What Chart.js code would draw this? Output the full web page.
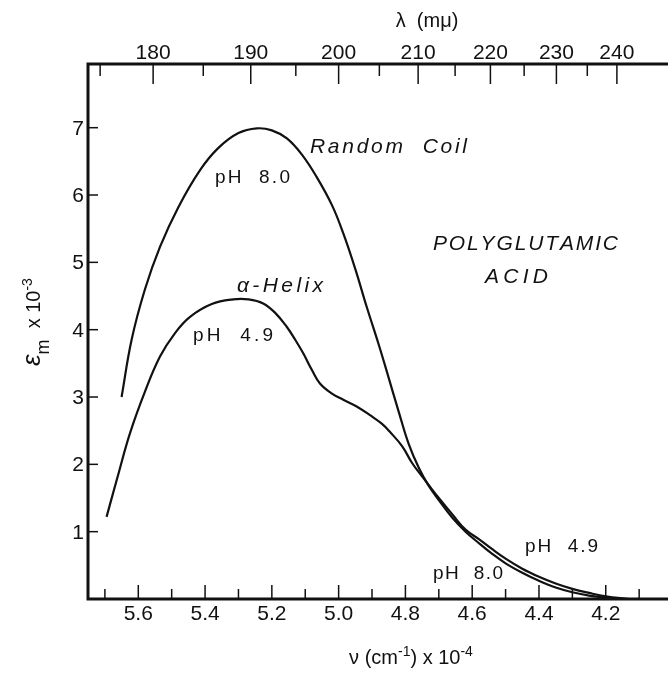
<!DOCTYPE html>
<html>
<head>
<meta charset="utf-8">
<script src="https://cdn.jsdelivr.net/npm/chart.js@4.4.1/dist/chart.umd.min.js"></script>
<style>
  html, body { margin: 0; padding: 0; background: #fff; }
  #wrap { width: 668px; height: 678px; }
</style>
</head>
<body>
<div id="wrap"><canvas id="chart" width="668" height="678"></canvas></div>
<script>
// wavenumber nu (cm-1 x 10^-4) and molar extinction (x 10^-3)
const coilNu  = [5.65, 5.62, 5.58, 5.535, 5.48, 5.415, 5.36, 5.30, 5.245, 5.20, 5.155, 5.11, 5.066, 5.02, 4.986, 4.95, 4.916, 4.88, 4.851, 4.82, 4.79, 4.76, 4.73, 4.70, 4.66, 4.62, 4.58, 4.54, 4.50, 4.45, 4.40, 4.35, 4.30, 4.25, 4.20, 4.16];
const coilEps = [3.00, 3.85, 4.60, 5.23, 5.82, 6.37, 6.70, 6.92, 6.99, 6.96, 6.84, 6.60, 6.27, 5.85, 5.43, 4.90, 4.34, 3.78, 3.30, 2.78, 2.30, 1.95, 1.68, 1.47, 1.21, 1.00, 0.83, 0.67, 0.53, 0.39, 0.27, 0.17, 0.10, 0.05, 0.02, 0.00];

const helixNu  = [5.695, 5.66, 5.625, 5.58, 5.535, 5.49, 5.445, 5.38, 5.316, 5.27, 5.226, 5.19, 5.155, 5.13, 5.106, 5.08, 5.056, 5.02, 4.986, 4.946, 4.906, 4.87, 4.846, 4.81, 4.78, 4.75, 4.73, 4.70, 4.66, 4.62, 4.58, 4.54, 4.50, 4.45, 4.40, 4.35, 4.30, 4.25, 4.20, 4.13];
const helixEps = [1.22, 1.85, 2.46, 3.08, 3.60, 3.95, 4.19, 4.38, 4.45, 4.45, 4.39, 4.25, 4.04, 3.85, 3.65, 3.40, 3.20, 3.05, 2.96, 2.86, 2.73, 2.60, 2.48, 2.27, 2.02, 1.82, 1.69, 1.50, 1.26, 1.03, 0.89, 0.74, 0.60, 0.45, 0.33, 0.23, 0.15, 0.09, 0.04, 0.00];

const nuTicks = [5.7, 5.6, 5.5, 5.4, 5.3, 5.2, 5.1, 5.0, 4.9, 4.8, 4.7, 4.6, 4.5, 4.4, 4.3, 4.2, 4.1];
const nuLabels = ['5.6', '5.4', '5.2', '5.0', '4.8', '4.6', '4.4', '4.2'];
const lambdaTicks = [175, 180, 185, 190, 195, 200, 205, 210, 215, 220, 225, 230, 235, 240];
const lambdaLabels = ['180', '190', '200', '210', '220', '230', '240'];
const epsTicks = [1, 2, 3, 4, 5, 6, 7];

const FONT = '"Liberation Sans", Arial, sans-serif';

function toPoints(xs, ys) {
    return xs.map((x, i) => ({ x: x, y: ys[i] }));
}

// draw text one glyph at a time so it spreads over a given width
function spreadText(ctx, text, x, y, width, font) {
    ctx.font = font;
    const chars = Array.from(text);
    const natural = chars.reduce((s, c) => s + ctx.measureText(c).width, 0);
    const gap = chars.length > 1 ? (width - natural) / (chars.length - 1) : 0;
    let cx = x;
    chars.forEach(c => {
        ctx.fillText(c, cx, y);
        cx += ctx.measureText(c).width + gap;
    });
}

// text made of pieces with their own size and raise (for sub/superscripts)
function pieces(ctx, parts, cx, y) {
    let total = 0;
    parts.forEach(p => { ctx.font = p.font; total += ctx.measureText(p.t).width; });
    let x = cx - total / 2;
    parts.forEach(p => {
        ctx.font = p.font;
        ctx.fillText(p.t, x, y + (p.dy || 0));
        x += ctx.measureText(p.t).width;
    });
}

const framePlugin = {
    id: 'frame',
    afterDraw(chart) {
        const ctx = chart.ctx;
        const a = chart.chartArea;
        const xs = chart.scales.x;
        const ys = chart.scales.y;
        ctx.save();
        ctx.strokeStyle = '#111';
        ctx.fillStyle = '#111';

        // frame
        ctx.lineWidth = 3;
        ctx.beginPath();
        ctx.moveTo(chart.width, a.top);
        ctx.lineTo(a.left, a.top);
        ctx.lineTo(a.left, a.bottom);
        ctx.lineTo(chart.width, a.bottom);
        ctx.stroke();

        ctx.lineWidth = 1.5;
        ctx.textAlign = 'center';
        ctx.textBaseline = 'alphabetic';

        // bottom ticks (inward)
        nuTicks.forEach(v => {
            const px = xs.getPixelForValue(v);
            const major = nuLabels.includes(v.toFixed(1));
            ctx.beginPath();
            ctx.moveTo(px, a.bottom);
            ctx.lineTo(px, a.bottom - (major ? 14 : 10));
            ctx.stroke();
        });
        ctx.font = '21px ' + FONT;
        nuLabels.forEach(l => {
            ctx.fillText(l, xs.getPixelForValue(parseFloat(l)), a.bottom + 21);
        });

        // top ticks: wavelength in m\u03bc, nu = 1000 / lambda
        lambdaTicks.forEach(l => {
            const px = xs.getPixelForValue(1000 / l);
            const major = lambdaLabels.includes(String(l));
            ctx.beginPath();
            ctx.moveTo(px, a.top);
            ctx.lineTo(px, a.top + (major ? 20 : 12));
            ctx.stroke();
        });
        ctx.font = '21px ' + FONT;
        lambdaLabels.forEach(l => {
            ctx.fillText(l, xs.getPixelForValue(1000 / parseFloat(l)), a.top - 5);
        });

        // left ticks
        ctx.textAlign = 'right';
        epsTicks.forEach(v => {
            const py = ys.getPixelForValue(v);
            ctx.beginPath();
            ctx.moveTo(a.left, py);
            ctx.lineTo(a.left + 10, py);
            ctx.stroke();
            ctx.fillText(String(v), a.left - 4, py + 7);
        });

        // axis titles
        ctx.textAlign = 'left';
        pieces(ctx, [
            { t: '\u03bb  (m\u03bc)', font: '20px ' + FONT }
        ], 427, 27);
        pieces(ctx, [
            { t: '\u03bd (cm', font: '20px ' + FONT },
            { t: '-1', font: '14px ' + FONT, dy: -8 },
            { t: ') x 10', font: '20px ' + FONT },
            { t: '-4', font: '14px ' + FONT, dy: -8 }
        ], 411, 664);
        ctx.save();
        ctx.translate(40, 322);
        ctx.rotate(-Math.PI / 2);
        pieces(ctx, [
            { t: '\u03b5', font: 'italic 26px ' + FONT },
            { t: 'm', font: '18px ' + FONT, dy: 9 },
            { t: '  x 10', font: '20px ' + FONT },
            { t: '-3', font: '14px ' + FONT, dy: -8 }
        ], 0, 0);
        ctx.restore();

        // curve annotations
        const it = 'italic 21px ' + FONT;
        const rg = '19px ' + FONT;
        spreadText(ctx, 'Random  Coil', 310, 153, 157, it);
        spreadText(ctx, 'pH  8.0', 215, 183, 75, rg);
        spreadText(ctx, '\u03b1-Helix', 237, 292, 86, it);
        spreadText(ctx, 'pH  4.9', 193, 341, 80, rg);
        spreadText(ctx, 'POLYGLUTAMIC', 433, 250, 185, it);
        spreadText(ctx, 'ACID', 485, 283, 63, it);
        spreadText(ctx, 'pH  4.9', 525, 552, 73, rg);
        spreadText(ctx, 'pH  8.0', 433, 579, 70, rg);

        ctx.restore();
    }
};

new Chart(document.getElementById('chart'), {
    type: 'scatter',
    data: {
        datasets: [
            {
                label: 'Random Coil pH 8.0',
                data: toPoints(coilNu, coilEps),
                showLine: true,
                borderColor: '#111',
                borderWidth: 2.2,
                pointRadius: 0,
                tension: 0.4
            },
            {
                label: 'alpha-Helix pH 4.9',
                data: toPoints(helixNu, helixEps),
                showLine: true,
                borderColor: '#111',
                borderWidth: 2.2,
                pointRadius: 0,
                tension: 0.4
            }
        ]
    },
    options: {
        responsive: false,
        animation: false,
        layout: { padding: { left: 88, top: 64, right: 0, bottom: 79 } },
        scales: {
            x: { type: 'linear', reverse: true, min: 4.0136, max: 5.7506, display: false },
            y: { type: 'linear', min: 0, max: 7.946, display: false }
        },
        plugins: {
            legend: { display: false },
            tooltip: { enabled: false }
        }
    },
    plugins: [framePlugin]
});
</script>
</body>
</html>
